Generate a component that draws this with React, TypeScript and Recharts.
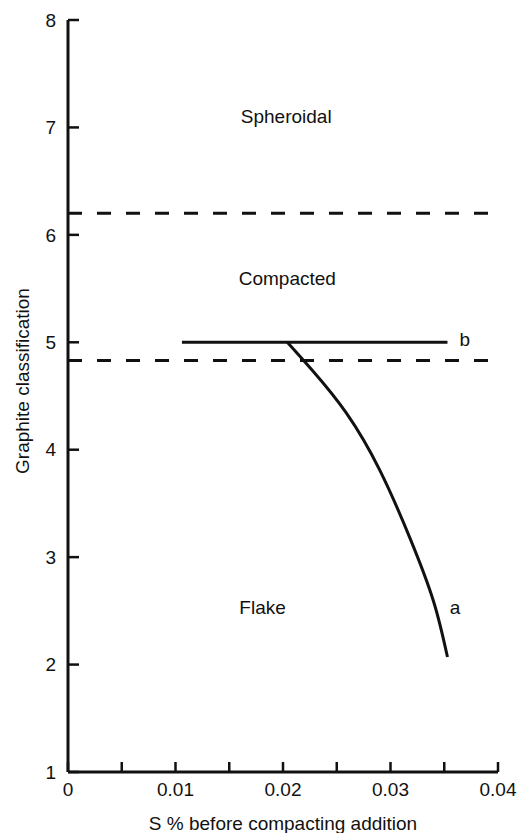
import React from "react";
import {
  LineChart,
  Line,
  XAxis,
  YAxis,
  ReferenceLine,
  ReferenceDot,
} from "recharts";

const FONT = "'Liberation Sans', Arial, Helvetica, sans-serif";
const INK = "#111";

// curve a: classification vs S content
const curveA = [
  { x: 0.0204, y: 5.0 },
  { x: 0.0228, y: 4.73 },
  { x: 0.0259, y: 4.34 },
  { x: 0.029, y: 3.81 },
  { x: 0.0318, y: 3.18 },
  { x: 0.034, y: 2.59 },
  { x: 0.0353, y: 2.07 },
];

// line b: constant classification
const lineB = [
  { x: 0.0106, y: 5.0 },
  { x: 0.0353, y: 5.0 },
];

// region boundaries
const boundaries = [6.2, 4.83];

const xTicks = [0, 0.005, 0.01, 0.015, 0.02, 0.025, 0.03, 0.035, 0.04];
const xTickLabels = ["0", "", "0.01", "", "0.02", "", "0.03", "", "0.04"];
const yTicks = [1, 2, 3, 4, 5, 6, 7, 8];

const notes = [
  { text: "Spheroidal", x: 0.0203, y: 7.1 },
  { text: "Compacted", x: 0.0204, y: 5.6 },
  { text: "Flake", x: 0.0181, y: 2.53 },
  { text: "a", x: 0.036, y: 2.53 },
  { text: "b", x: 0.0369, y: 5.03 },
];

const tickStyle = { fill: INK, fontSize: 19, fontFamily: FONT };

function YTitle(props: any) {
  const vb = props.viewBox;
  const cx = vb.x + 14;
  const cy = vb.y + vb.height / 2 - 15;
  return (
    <text
      x={cx}
      y={cy}
      transform={`rotate(-90 ${cx} ${cy})`}
      textAnchor="middle"
      dominantBaseline="central"
      fill={INK}
      fontSize={19}
      fontFamily={FONT}
    >
      Graphite classification
    </text>
  );
}

export default function App() {
  return (
    <div style={{ position: "absolute", left: 0, top: 0, background: "#fff" }}>
      <LineChart
        width={520}
        height={833}
        margin={{ top: 20, right: 22, bottom: 0, left: 8 }}
        style={{ fontFamily: FONT }}
      >
        <XAxis
          type="number"
          dataKey="x"
          domain={[0, 0.04]}
          ticks={xTicks}
          interval={0}
          tickFormatter={(v: number) => xTickLabels[xTicks.indexOf(v)] ?? ""}
          height={61}
          axisLine={{ stroke: INK, strokeWidth: 3 }}
          tickLine={{ stroke: INK, strokeWidth: 2.5 }}
          tickSize={-10}
          tickMargin={21}
          tick={tickStyle}
          label={{
            value: "S % before compacting addition",
            position: "insideBottom",
            offset: 3.5,
            fill: INK,
            fontSize: 19,
            fontFamily: FONT,
          }}
        />
        <YAxis
          type="number"
          domain={[1, 8]}
          ticks={yTicks}
          interval={0}
          width={60}
          axisLine={{ stroke: INK, strokeWidth: 3 }}
          tickLine={{ stroke: INK, strokeWidth: 2.5 }}
          tickSize={-11}
          tickMargin={23}
          tick={tickStyle}
          label={<YTitle />}
        />
        {boundaries.map((b) => (
          <ReferenceLine
            key={b}
            y={b}
            stroke={INK}
            strokeWidth={3}
            strokeDasharray="14 15"
          />
        ))}
        <Line
          data={lineB}
          dataKey="y"
          type="linear"
          stroke={INK}
          strokeWidth={3}
          dot={false}
          isAnimationActive={false}
        />
        <Line
          data={curveA}
          dataKey="y"
          type="natural"
          stroke={INK}
          strokeWidth={3}
          dot={false}
          isAnimationActive={false}
        />
        {notes.map((n) => (
          <ReferenceDot
            key={n.text}
            x={n.x}
            y={n.y}
            r={0}
            stroke="none"
            fill="none"
            label={{
              value: n.text,
              position: "center",
              fill: INK,
              fontSize: 19,
              fontFamily: FONT,
            }}
          />
        ))}
      </LineChart>
    </div>
  );
}
